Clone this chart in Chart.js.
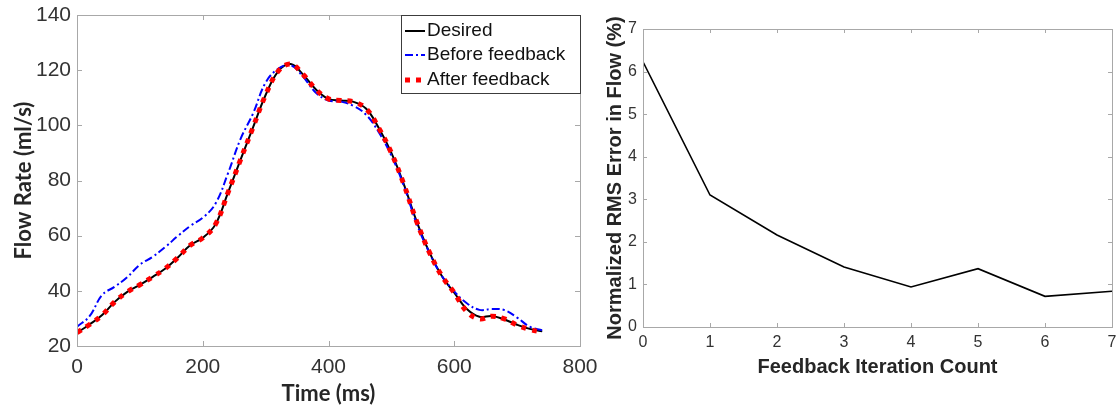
<!DOCTYPE html>
<html>
<head>
<meta charset="utf-8">
<script src="https://cdn.jsdelivr.net/npm/chart.js@4.4.1/dist/chart.umd.min.js"></script>
<style>
  html, body { margin: 0; padding: 0; background: #ffffff; }
  #wrap { position: relative; width: 1117px; height: 409px; overflow: hidden; background: #fff; }
  #flowChart { position: absolute; left: 0; top: 0; }
  #errChart { position: absolute; left: 600px; top: 0; }
</style>
</head>
<body>
<div id="wrap">
  <canvas id="flowChart" width="600" height="409"></canvas>
  <canvas id="errChart" width="517" height="409"></canvas>
</div>
<script>
// ---------------- Data (left: flow waveform) ----------------
const timeMs = [0, 20, 40, 60, 80, 100, 120, 140, 160, 180, 200, 220, 240, 260, 280, 300, 320, 340, 360, 380,
                400, 420, 440, 460, 480, 500, 520, 540, 560, 580, 600, 620, 640, 660, 680, 700, 720, 740];
const desiredFlow = [24.8, 27.8, 31.2, 36.0, 39.6, 42.2, 45.0, 48.0, 52.0, 56.5, 59.2, 64.0, 75.5, 87.5, 99.3, 111.0, 119.6, 122.2, 118.3, 113.0,
                     109.6, 109.0, 108.5, 106.0, 99.0, 90.0, 78.5, 65.3, 54.2, 45.5, 39.3, 33.4, 30.6, 30.9, 29.6, 27.7, 26.2, 25.3];
const beforeFeedbackFlow = [27.0, 30.8, 38.5, 41.5, 45.0, 49.5, 52.3, 55.8, 59.8, 63.5, 66.5, 71.5, 82.5, 95.0, 104.3, 115.5, 120.5, 121.8, 117.5, 111.8,
                            109.0, 108.6, 107.0, 103.8, 97.5, 89.0, 78.0, 64.5, 54.0, 45.5, 39.8, 35.5, 33.1, 33.4, 33.0, 30.3, 27.0, 25.7];
const afterFeedbackFlow = [24.8, 27.8, 31.2, 36.0, 39.6, 42.2, 45.0, 48.0, 52.0, 56.5, 59.2, 64.0, 75.5, 87.5, 99.3, 111.0, 119.6, 122.2, 118.3, 113.0,
                           109.6, 109.0, 108.5, 106.0, 99.0, 90.0, 78.5, 65.3, 54.2, 45.5, 39.3, 32.5, 29.8, 30.8, 29.8, 27.6, 26.0, 25.0];
const timeTicks = [0, 200, 400, 600, 800];
const flowTicks = [20, 40, 60, 80, 100, 120, 140];

// ---------------- Data (right: RMS error) ----------------
const iterationCount = [0, 1, 2, 3, 4, 5, 6, 7];
const rmsErrorPct = [6.23, 3.10, 2.16, 1.41, 0.94, 1.37, 0.72, 0.84];
const iterationTicks = [0, 1, 2, 3, 4, 5, 6, 7];
const errorTicks = [0, 1, 2, 3, 4, 5, 6, 7];

const toXY = (xs, ys) => xs.map((x, i) => ({ x: x, y: ys[i] }));

const AXIS_GRAY = '#a8a8a8';
const TICK_TEXT = '#333333';
const TITLE_TEXT = '#262626';

// remove the automatic label-overhang padding so layout.padding alone sets the plot box
const noLabelPad = s => { s.paddingLeft = 0; s.paddingRight = 0; s.paddingTop = 0; s.paddingBottom = 0; };

// MATLAB-style box with inward ticks on all four sides
const matlabAxes = {
  id: 'matlabAxes',
  afterDatasetsDraw(chart, args, opts) {
    const { ctx, chartArea } = chart;
    const { left, right, top, bottom } = chartArea;
    const xs = chart.scales.x, ys = chart.scales.y;
    const L = opts.tickLen || 5;
    ctx.save();
    ctx.strokeStyle = opts.color || AXIS_GRAY;
    ctx.lineWidth = 1;
    ctx.beginPath();
    xs.ticks.forEach(t => {
      const px = Math.round(xs.getPixelForValue(t.value)) + 0.5;
      ctx.moveTo(px, bottom); ctx.lineTo(px, bottom - L);
      ctx.moveTo(px, top); ctx.lineTo(px, top + L);
    });
    ys.ticks.forEach(t => {
      const py = Math.round(ys.getPixelForValue(t.value)) + 0.5;
      ctx.moveTo(left, py); ctx.lineTo(left + L, py);
      ctx.moveTo(right, py); ctx.lineTo(right - L, py);
    });
    ctx.stroke();
    ctx.strokeRect(Math.round(left) + 0.5, Math.round(top) + 0.5,
                   Math.round(right - left), Math.round(bottom - top));
    ctx.restore();
  }
};

// Legend box in the top-right corner of the plot, built from the datasets
const boxLegend = {
  id: 'boxLegend',
  afterDraw(chart, args, opts) {
    if (!opts || !opts.show) return;
    const { ctx, chartArea } = chart;
    const x0 = opts.left, y0 = chartArea.top;
    const x1 = chartArea.right, y1 = opts.bottom;
    ctx.save();
    ctx.fillStyle = '#ffffff';
    ctx.fillRect(x0, y0, x1 - x0, y1 - y0);
    ctx.strokeStyle = '#3c3c3c';
    ctx.lineWidth = 1;
    ctx.strokeRect(Math.round(x0) + 0.5, Math.round(y0) + 0.5, Math.round(x1 - x0), Math.round(y1 - y0));
    ctx.font = opts.font;
    ctx.textBaseline = 'middle';
    ctx.textAlign = 'left';
    chart.data.datasets.forEach((ds, i) => {
      const yy = opts.rows[i];
      ctx.save();
      ctx.strokeStyle = ds.borderColor;
      ctx.lineWidth = ds.borderWidth;
      ctx.lineCap = 'butt';
      ctx.setLineDash(ds.borderDash || []);
      ctx.beginPath();
      ctx.moveTo(opts.sampleX0, yy);
      ctx.lineTo(opts.sampleX1, yy);
      ctx.stroke();
      ctx.restore();
      ctx.fillStyle = '#111111';
      ctx.fillText(ds.label, opts.textX, yy);
    });
    ctx.restore();
  }
};

Chart.register(matlabAxes, boxLegend);

// ---------------- Left chart ----------------
new Chart(document.getElementById('flowChart'), {
  type: 'line',
  data: {
    datasets: [
      { label: 'Desired', data: toXY(timeMs, desiredFlow), borderColor: '#000000', borderWidth: 2,
        pointRadius: 0, tension: 0.4, order: 3, fill: false },
      { label: 'Before feedback', data: toXY(timeMs, beforeFeedbackFlow), borderColor: '#0000ff', borderWidth: 2,
        borderDash: [8, 3, 2, 3], pointRadius: 0, tension: 0.4, order: 2, fill: false },
      { label: 'After feedback', data: toXY(timeMs, afterFeedbackFlow), borderColor: '#ff0000', borderWidth: 5,
        borderDash: [5, 6], borderCapStyle: 'butt', pointRadius: 0, tension: 0.4, order: 1, fill: false }
    ]
  },
  options: {
    responsive: false,
    animation: false,
    events: [],
    layout: { padding: { top: 15, right: 20, left: 0, bottom: 0 } },
    plugins: {
      legend: { display: false },
      tooltip: { enabled: false },
      matlabAxes: { color: AXIS_GRAY, tickLen: 5 },
      boxLegend: { show: true, left: 401, bottom: 93, rows: [31, 55, 80], sampleX0: 405, sampleX1: 425, textX: 427,
                   font: '19px "Liberation Sans", Arial, sans-serif' }
    },
    scales: {
      x: {
        type: 'linear', min: 0, max: 800,
        afterBuildTicks: s => { s.ticks = timeTicks.map(v => ({ value: v })); },
        afterFit: s => { s.height = 63; noLabelPad(s); },
        grid: { display: false, drawTicks: false },
        border: { display: false },
        ticks: { color: TICK_TEXT, padding: 9, maxRotation: 0, autoSkip: false,
                 font: { family: '"Liberation Sans", Arial, sans-serif', size: 21 } },
        title: { display: true, text: 'Time (ms)', color: TITLE_TEXT, padding: { top: 0, bottom: 2 },
                 font: { family: 'Lato, "Open Sans", sans-serif', size: 22, weight: 'bold' } }
      },
      y: {
        type: 'linear', min: 20, max: 140,
        afterBuildTicks: s => { s.ticks = flowTicks.map(v => ({ value: v })); },
        afterFit: s => { s.width = 77; noLabelPad(s); },
        grid: { display: false, drawTicks: false },
        border: { display: false },
        ticks: { color: TICK_TEXT, padding: 6, autoSkip: false,
                 font: { family: '"Liberation Sans", Arial, sans-serif', size: 21 } },
        title: { display: true, text: 'Flow Rate (ml/s)', color: TITLE_TEXT, padding: { top: 11, bottom: 0 },
                 font: { family: 'Lato, "Open Sans", sans-serif', size: 22, weight: 'bold' } }
      }
    }
  }
});

// ---------------- Right chart ----------------
new Chart(document.getElementById('errChart'), {
  type: 'line',
  data: {
    datasets: [
      { label: 'Normalized RMS Error', data: toXY(iterationCount, rmsErrorPct), borderColor: '#000000',
        borderWidth: 1.6, pointRadius: 0, tension: 0, fill: false }
    ]
  },
  options: {
    responsive: false,
    animation: false,
    events: [],
    layout: { padding: { top: 29, right: 5, left: 0, bottom: 0 } },
    plugins: {
      legend: { display: false },
      tooltip: { enabled: false },
      matlabAxes: { color: AXIS_GRAY, tickLen: 4 },
      boxLegend: { show: false }
    },
    scales: {
      x: {
        type: 'linear', min: 0, max: 7,
        afterBuildTicks: s => { s.ticks = iterationTicks.map(v => ({ value: v })); },
        afterFit: s => { s.height = 82; noLabelPad(s); },
        grid: { display: false, drawTicks: false },
        border: { display: false },
        ticks: { color: TICK_TEXT, padding: 6, maxRotation: 0, autoSkip: false,
                 font: { family: '"Liberation Sans", Arial, sans-serif', size: 16 } },
        title: { display: true, text: 'Feedback Iteration Count', color: TITLE_TEXT, padding: { top: 0, bottom: 30 },
                 font: { family: '"Liberation Sans", Arial, sans-serif', size: 20, weight: 'bold' } }
      },
      y: {
        type: 'linear', min: 0, max: 7,
        afterBuildTicks: s => { s.ticks = errorTicks.map(v => ({ value: v })); },
        afterFit: s => { s.width = 43; noLabelPad(s); },
        grid: { display: false, drawTicks: false },
        border: { display: false },
        ticks: { color: TICK_TEXT, padding: 6, autoSkip: false,
                 font: { family: '"Liberation Sans", Arial, sans-serif', size: 16 } },
        title: { display: true, text: 'Normalized RMS Error in Flow (%)', color: TITLE_TEXT, padding: { top: 3, bottom: 0 },
                 font: { family: '"Liberation Sans", Arial, sans-serif', size: 20, weight: 'bold' } }
      }
    }
  }
});
</script>
</body>
</html>
